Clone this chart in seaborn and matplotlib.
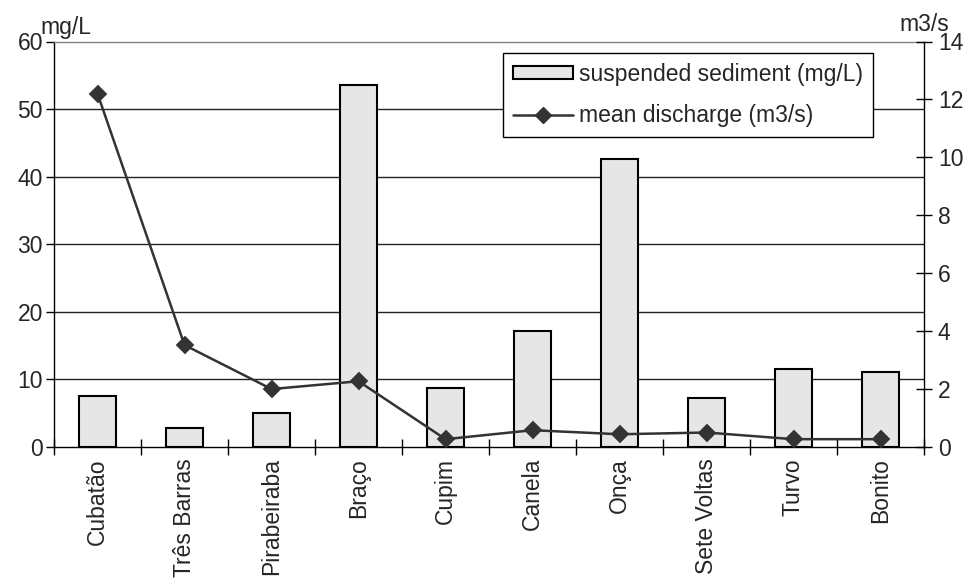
import matplotlib
matplotlib.use("Agg")
import matplotlib.pyplot as plt
from matplotlib.patches import Patch
from matplotlib.lines import Line2D
from matplotlib.ticker import FixedLocator, NullFormatter
import seaborn as sns
import pandas as pd

rivers = ["Cubatão", "Três Barras", "Pirabeiraba", "Braço", "Cupim",
          "Canela", "Onça", "Sete Voltas", "Turvo", "Bonito"]
sediment_mg_l = [7.5, 2.8, 5.0, 53.5, 8.8, 17.2, 42.6, 7.2, 11.5, 11.1]
discharge_m3_s = [12.2, 3.52, 2.0, 2.27, 0.27, 0.58, 0.44, 0.5, 0.27, 0.27]
left_ticks = [0, 10, 20, 30, 40, 50, 60]
right_ticks = [0, 2, 4, 6, 8, 10, 12, 14]

df = pd.DataFrame({"river": rivers, "sediment": sediment_mg_l,
                   "discharge": discharge_m3_s})

sns.set_theme(style="white")
plt.rcParams["font.family"] = ["Liberation Sans", "DejaVu Sans"]
FS = 16.5
plt.rcParams["font.size"] = FS

W, H = 968, 587
fig = plt.figure(figsize=(W / 100, H / 100), dpi=100)
ax = fig.add_axes([54 / W, (H - 447) / H, (924 - 54) / W, (447 - 41.5) / H])

bar_fill = "#e6e6e6"
line_col = "#333333"

sns.barplot(data=df, x="river", y="sediment", ax=ax, color=bar_fill,
            edgecolor="black", linewidth=1.5, width=0.42, saturation=1,
            zorder=3)

ax.set_ylim(0, 60)
ax.set_xlim(-0.5, len(rivers) - 0.5)
ax.set_yticks(left_ticks)
ax.set_yticklabels([str(t) for t in left_ticks], fontsize=FS)
ax.set_xlabel("")
ax.set_ylabel("")
for t in left_ticks[1:-1]:
    ax.axhline(t, color="#222222", lw=1.0, zorder=1)

ax.set_xticks(range(len(rivers)))
ax.set_xticklabels(rivers, rotation=90, fontsize=FS, va="top", ha="center")
ax.tick_params(axis="x", which="major", length=0, pad=8)
ax.xaxis.set_minor_locator(FixedLocator([i + 0.5 for i in range(-1, len(rivers))]))
ax.xaxis.set_minor_formatter(NullFormatter())
ax.tick_params(axis="x", which="minor", direction="inout", length=12,
               width=1, color="black", bottom=True)
ax.tick_params(axis="y", direction="out", length=6, width=1, color="black",
               left=True, pad=2)

for side in ["left", "bottom"]:
    ax.spines[side].set_color("black")
    ax.spines[side].set_linewidth(1.0)
ax.spines["top"].set_color("#808080")
ax.spines["top"].set_linewidth(1.0)
ax.spines["right"].set_visible(False)

ax2 = ax.twinx()
sns.pointplot(data=df, x="river", y="discharge", ax=ax2, color=line_col,
              markers="D", linestyles="-", markersize=8, linewidth=1.8,
              errorbar=None)
ax2.set_ylim(0, 14)
ax2.set_xlim(-0.5, len(rivers) - 0.5)
ax2.set_yticks(right_ticks)
ax2.set_yticklabels([str(t) for t in right_ticks], fontsize=FS)
ax2.set_ylabel("")
ax2.set_xlabel("")
ax2.tick_params(axis="y", direction="inout", length=12, width=1,
                color="black", right=True, pad=4)
for side in ["left", "top", "bottom"]:
    ax2.spines[side].set_visible(False)
ax2.spines["right"].set_color("black")
ax2.spines["right"].set_linewidth(1.0)

fig.text(40 / W, 1 - 34 / H, "mg/L", fontsize=FS, ha="left", va="baseline")
fig.text(899 / W, 1 - 31 / H, "m3/s", fontsize=FS, ha="left", va="baseline")

handles = [
    Patch(facecolor=bar_fill, edgecolor="black", linewidth=1.5),
    Line2D([0], [0], color=line_col, lw=1.8, marker="D", markersize=8),
]
labels = ["suspended sediment (mg/L)", "mean discharge (m3/s)"]
leg = ax2.legend(handles, labels, loc="upper left",
                 bbox_to_anchor=((503 - 54) / 870, (447 - 53) / 405.5),
                 borderaxespad=0,
                 frameon=True, fancybox=False, edgecolor="black",
                 framealpha=1, fontsize=FS, handlelength=2.6,
                 handleheight=0.5, handletextpad=0.26, labelspacing=0.79,
                 borderpad=0.44)
leg.get_frame().set_linewidth(1.0)

fig.savefig("out.png", dpi=100)
